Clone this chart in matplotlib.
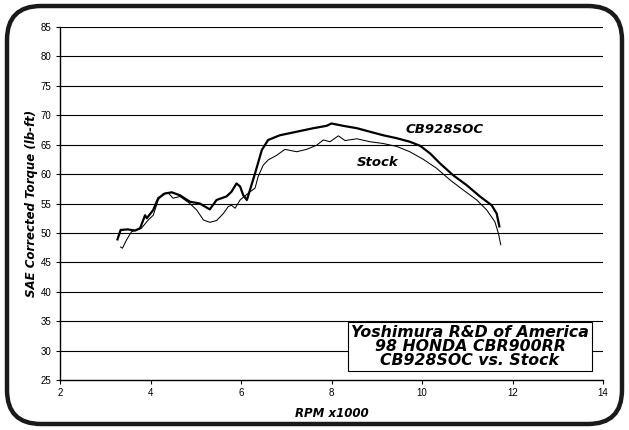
import matplotlib
matplotlib.use("Agg")
import matplotlib.pyplot as plt
from matplotlib.patches import FancyBboxPatch
from matplotlib.transforms import IdentityTransform

# CB928SOC (thick)
cb_rpm = [3.27, 3.34, 3.50, 3.66, 3.77, 3.88, 3.92, 4.06, 4.17, 4.32, 4.47, 4.65, 4.87, 5.09,
          5.31, 5.46, 5.68, 5.79, 5.90, 5.98, 6.05, 6.13, 6.31, 6.46, 6.60, 6.86, 7.23, 7.60,
          7.89, 8.00, 8.26, 8.56, 8.85, 9.14, 9.44, 9.73, 9.96, 10.18, 10.40, 10.69, 10.99,
          11.28, 11.54, 11.65, 11.71]
cb_tq = [48.9, 50.5, 50.6, 50.4, 50.8, 53.0, 52.5, 53.9, 55.9, 56.7, 56.9, 56.4, 55.3, 55.0,
         54.0, 55.6, 56.2, 57.0, 58.4, 57.9, 56.4, 55.6, 60.1, 64.1, 65.8, 66.6, 67.2, 67.8,
         68.2, 68.6, 68.2, 67.8, 67.2, 66.6, 66.1, 65.5, 64.8, 63.5, 61.8, 59.8, 58.1,
         56.2, 54.7, 53.3, 51.1]

# Stock (thin)
st_rpm = [3.34, 3.38, 3.47, 3.58, 3.69, 3.80, 3.95, 4.06, 4.17, 4.28, 4.39, 4.50, 4.65, 4.87,
          5.02, 5.17, 5.31, 5.46, 5.61, 5.72, 5.79, 5.87, 5.98, 6.20, 6.31, 6.38, 6.49, 6.60,
          6.79, 6.97, 7.23, 7.45, 7.67, 7.82, 7.97, 8.15, 8.30, 8.56, 8.85, 9.14, 9.44, 9.73,
          10.03, 10.32, 10.62, 10.91, 11.21, 11.43, 11.61, 11.69, 11.74]
st_tq = [47.6, 47.4, 48.8, 50.2, 50.5, 50.8, 52.2, 53.0, 55.6, 56.7, 56.8, 55.9, 56.2, 55.0,
         53.9, 52.2, 51.8, 52.1, 53.3, 54.5, 54.7, 54.2, 55.6, 57.0, 57.6, 59.6, 61.5, 62.4,
         63.2, 64.2, 63.8, 64.2, 64.9, 65.8, 65.5, 66.5, 65.7, 66.0, 65.5, 65.2, 64.7, 63.8,
         62.5, 61.0, 59.0, 57.3, 55.6, 53.9, 51.9, 49.9, 48.0]

x_ticks = [2, 4, 6, 8, 10, 12, 14]
y_ticks = [25, 30, 35, 40, 45, 50, 55, 60, 65, 70, 75, 80, 85]

fig = plt.figure(figsize=(6.29, 4.30), dpi=100)
ax = fig.add_axes([60/629, 1-380/430, (603-60)/629, (380-27)/430])

for y in y_ticks[1:]:
    ax.axhline(y, color="black", lw=0.8, zorder=1)

ax.plot(st_rpm, st_tq, color="black", lw=0.75, zorder=3)
ax.plot(cb_rpm, cb_tq, color="black", lw=1.6, zorder=4)

ax.set_xlim(2, 14)
ax.set_ylim(25, 85)
ax.set_xticks(x_ticks)
ax.set_yticks(y_ticks)
ax.tick_params(axis="both", labelsize=7, length=3, width=0.8, direction="out",
               colors="black", pad=3)
for lab in ax.get_xticklabels() + ax.get_yticklabels():
    lab.set_fontfamily("Liberation Sans")
for s in ["top", "right"]:
    ax.spines[s].set_visible(False)
for s in ["left", "bottom"]:
    ax.spines[s].set_linewidth(1.0)

lbl_font = dict(family="DejaVu Sans", weight="bold", style="italic")
ax.set_xlabel("RPM x1000", fontsize=8.5, labelpad=6, **lbl_font)
ax.set_ylabel("SAE Corrected Torque (lb-ft)", fontsize=8.5, labelpad=2, **lbl_font)

ax.text(10.5, 67.5, "CB928SOC", fontsize=9.5, ha="center", va="center", **lbl_font)
ax.text(9.02, 62.0, "Stock", fontsize=9.5, ha="center", va="center", **lbl_font)

ax.text(11.06, 30.7, "Yoshimura R&D of America\n98 HONDA CBR900RR\nCB928SOC vs. Stock",
        fontsize=11.3, ha="center", va="center", linespacing=0.92, zorder=6,
        bbox=dict(boxstyle="square,pad=0.2", fc="white", ec="black", lw=0.8),
        **lbl_font)

frame = FancyBboxPatch((7, 6), 615, 418, boxstyle="round,pad=0,rounding_size=34",
                       transform=IdentityTransform(), fill=False, ec="#1a1a1a", lw=3.2)
fig.patches.append(frame)

fig.savefig("out.png", dpi=100)
